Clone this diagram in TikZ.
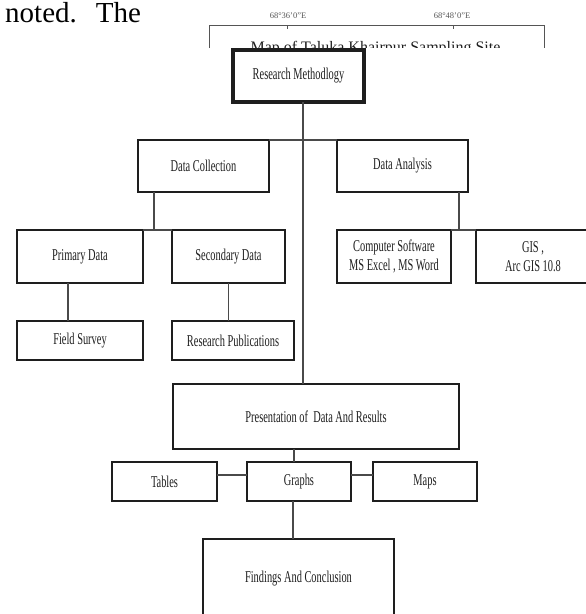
\documentclass[tikz,border=0pt]{standalone}
\usepackage{fontspec}
\setmainfont{Liberation Serif}
\newfontfamily\boxfont[FakeStretch=0.63]{Liberation Serif}
\usepackage{xcolor}
\usetikzlibrary{positioning}
\definecolor{ink}{HTML}{1E1E1E}
\definecolor{wire}{HTML}{4A4A4A}
\definecolor{mapline}{HTML}{555555}

\begin{document}
\begin{tikzpicture}[
  x=1pt,y=-1pt,
  font=\boxfont\fontsize{16.5pt}{19pt}\selectfont,
  box/.style={draw=ink,line width=2.4pt,fill=white,outer sep=0pt,inner sep=0pt,
              align=center,text=ink,minimum height=52pt},
  head/.style={box,line width=3.2pt},
  low/.style={box,minimum height=39pt},
  link/.style={draw=wire,line width=1.3pt},
  frame/.style={draw=mapline,line width=0.8pt},
]
\useasboundingbox (0,0) rectangle (586,614);
\clip (0,0) rectangle (586,614);

% ---- Page fragments above the chart
\node[font=\rmfamily\fontsize{29pt}{31pt}\selectfont,anchor=base west,inner sep=0pt] (prose)
     at (5,22) {noted.\hspace{19pt}The};
\draw[frame] (209,48) -- (209,25.5) -- (544,25.5) -- (544,48);
\draw[frame] (287,25.5) -- (287,28.5);
\draw[frame] (453,25.5) -- (453,28.5);
\node[font=\rmfamily\fontsize{8.5pt}{9pt}\selectfont,text=mapline,inner sep=0pt] (lonwest) at (288,16) {68°36'0"E};
\node[font=\rmfamily\fontsize{8.5pt}{9pt}\selectfont,text=mapline,inner sep=0pt] (loneast) at (452,16) {68°48'0"E};
\begin{scope}
  \clip (200,30) rectangle (560,47.5);
  \node[font=\rmfamily\fontsize{16pt}{18pt}\selectfont,text=ink,anchor=base,inner sep=0pt] (maptitle)
       at (375.5,52.5) {Map of Taluka Khairpur Sampling Site};
\end{scope}

% ---- Top
\node[head,minimum width=131pt] (rm) at (298.5,76) {Research Methodlogy};

% ---- Collection / analysis
\node[box,minimum width=131pt,below=38pt of rm,xshift=-95pt] (dc) {Data Collection};
\node[box,minimum width=131pt,right=68pt of dc] (da) {Data Analysis};

\node[box,minimum width=126pt,minimum height=53pt,below=38pt of dc,xshift=-123.5pt] (pd) {Primary Data};
\node[box,minimum width=113pt,minimum height=53pt,right=29pt of pd] (sd) {Secondary Data};
\node[low,minimum width=126pt,below=38pt of pd] (fs) {Field Survey};
\node[low,minimum width=122pt,below=38pt of sd,xshift=4.5pt] (rp) {Research Publications};

\node[box,minimum width=114pt,minimum height=53pt,below=38pt of da,xshift=-8.5pt] (cs)
     {Computer Software\\MS Excel , MS Word};
\node[box,minimum width=114pt,minimum height=53pt,right=25pt of cs] (gis) {GIS ,\\Arc GIS 10.8};

% ---- Presentation
\node[box,minimum width=286pt,minimum height=65pt,below=24pt of rp,xshift=83pt] (pr)
     {Presentation of \ Data And Results};
\node[low,minimum width=104pt,below=13pt of pr,xshift=-17pt] (gr) {Graphs};
\node[low,minimum width=105pt,left=30pt of gr] (tb) {Tables};
\node[low,minimum width=104pt,right=22pt of gr] (mp) {Maps};
\node[box,minimum width=191pt,minimum height=79pt,below=38pt of gr,xshift=-0.5pt] (fc)
     {Findings And Conclusion};

% ---- Links
\draw[link] ([xshift=4.5pt]rm.south) -- ([xshift=4.5pt]rm.south |- pr.north);
\draw[link] (dc.north east) -- (da.north west);
\draw[link] ([xshift=-49.5pt]dc.south) -- ([xshift=-49.5pt]dc.south |- pd.north);
\draw[link] (pd.north east) -- (sd.north west);
\draw[link] ([xshift=-12pt]pd.south) -- ([xshift=-12pt]fs.north);
\draw[link] (sd.south) -- (sd.south |- rp.north);
\draw[link] ([xshift=56.5pt]da.south) -- ([xshift=56.5pt]da.south |- cs.north);
\draw[link] (cs.north east) -- (gis.north west);
\draw[link] ([xshift=-22pt]pr.south) -- ([xshift=-22pt]pr.south |- gr.north);
\draw[link] ([yshift=6.5pt]tb.east) -- ([yshift=6.5pt]gr.west);
\draw[link] ([yshift=6.5pt]gr.east) -- ([yshift=6.5pt]mp.west);
\draw[link] ([xshift=-6pt]gr.south) -- ([xshift=-6pt]gr.south |- fc.north);

\end{tikzpicture}
\end{document}
